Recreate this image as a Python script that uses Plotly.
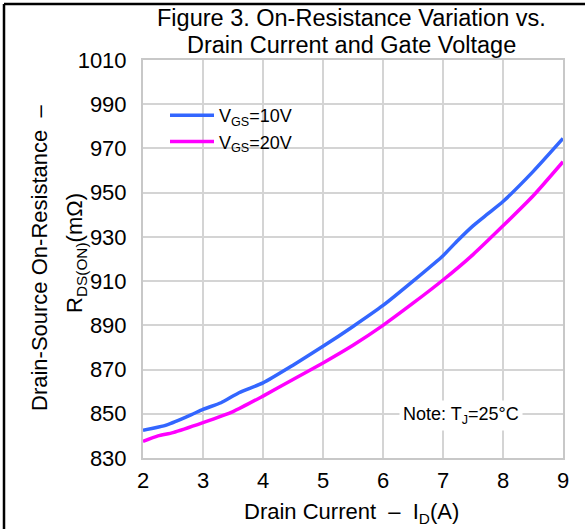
import plotly.graph_objects as go

id_vgs10 = [2.0, 2.4, 2.8, 3.0, 3.3, 3.6, 4.0, 4.5, 5.0, 5.5, 6.0, 6.5, 7.0, 7.25, 7.5, 7.75, 8.0, 8.5, 9.0]
r_vgs10 = [842.5, 845.0, 849.5, 852.0, 855.0, 859.5, 864.0, 872.0, 880.5, 889.5, 899.0, 910.0, 921.5, 928.5, 935.0, 940.5, 946.0, 959.5, 974.5]
id_vgs20 = [2.0, 2.25, 2.5, 3.0, 3.5, 4.0, 4.5, 5.0, 5.5, 6.0, 6.5, 7.0, 7.5, 8.0, 8.5, 9.0]
r_vgs20 = [837.5, 840.0, 841.5, 846.0, 851.0, 858.0, 865.5, 873.0, 881.0, 890.0, 900.0, 910.5, 922.0, 935.0, 948.5, 964.0]
x_ticks = [2, 3, 4, 5, 6, 7, 8, 9]
y_ticks = [830, 850, 870, 890, 910, 930, 950, 970, 990, 1010]
title_lines = ["Figure 3. On-Resistance Variation vs.", "Drain Current and Gate Voltage"]

W, H = 585, 529
ML, MR, MT, MB = 143, 22, 60, 71
PW, PH = W - ML - MR, H - MT - MB

def px(xp):
    return (xp - ML) / PW

def py(yp):
    return (H - MB - yp) / PH

FONT = "Liberation Sans, Arial, sans-serif"

fig = go.Figure()
fig.add_trace(go.Scatter(x=id_vgs10, y=r_vgs10, mode="lines", name="V<sub>GS</sub>=10V",
                         line=dict(color="#3366ff", width=3.5, shape="spline", smoothing=0.6)))
fig.add_trace(go.Scatter(x=id_vgs20, y=r_vgs20, mode="lines", name="V<sub>GS</sub>=20V",
                         line=dict(color="#ff00ff", width=3.5, shape="spline", smoothing=0.6)))

fig.update_layout(
    width=W, height=H,
    margin=dict(l=ML, r=MR, t=MT, b=MB, pad=0),
    paper_bgcolor="white", plot_bgcolor="white",
    font=dict(family=FONT, color="black"),
    showlegend=True,
    legend=dict(x=px(165), y=py(97), xanchor="left", yanchor="top",
                font=dict(size=18, family=FONT), bgcolor="rgba(0,0,0,0)",
                tracegroupgap=0, itemwidth=44),
)
fig.update_xaxes(range=[2, 9], tickvals=x_ticks, ticktext=[str(v) for v in x_ticks],
                 showgrid=True, gridcolor="#d4d4d4", gridwidth=1.5,
                 showline=True, linecolor="#c8c8c8", linewidth=2, mirror=True,
                 ticks="", tickfont=dict(size=22, family=FONT), ticklabelstandoff=2,
                 zeroline=False)
fig.update_yaxes(range=[830, 1010], tickvals=y_ticks, ticktext=[str(v) for v in y_ticks],
                 showgrid=True, gridcolor="#d4d4d4", gridwidth=1.5,
                 showline=True, linecolor="#c8c8c8", linewidth=2, mirror=True,
                 ticks="", tickfont=dict(size=22, family=FONT), ticklabelstandoff=10,
                 zeroline=False)

# two-line title
for txt, yc in zip(title_lines, [18, 45]):
    fig.add_annotation(text=txt, xref="paper", yref="paper",
                       x=px(351), y=py(yc), xanchor="center", yanchor="middle",
                       showarrow=False, font=dict(size=23.5, family=FONT))

fig.add_annotation(text="Drain Current  –  I<sub>D</sub>(A)", xref="paper", yref="paper",
                   x=px(351), y=py(513), xanchor="center", yanchor="middle",
                   showarrow=False, font=dict(size=22, family=FONT))
fig.add_annotation(text="Drain-Source On-Resistance  –", xref="paper", yref="paper",
                   x=px(39), y=py(258), xanchor="center", yanchor="middle", textangle=-90,
                   showarrow=False, font=dict(size=22, family=FONT))
fig.add_annotation(text="R<sub>DS(ON)</sub>(mΩ)", xref="paper", yref="paper",
                   x=px(76), y=py(253), xanchor="center", yanchor="middle", textangle=-90,
                   showarrow=False, font=dict(size=22, family=FONT))
fig.add_annotation(text="Note: T<sub>J</sub>=25°C", xref="paper", yref="paper",
                   x=px(461), y=py(415), xanchor="center", yanchor="middle",
                   showarrow=False, bgcolor="white", borderpad=3,
                   font=dict(size=18, family=FONT))

# outer frame lines
fig.add_shape(type="line", xref="paper", yref="paper", x0=px(4), x1=px(W + 5), y0=py(4), y1=py(4),
              line=dict(color="black", width=2.5))
fig.add_shape(type="line", xref="paper", yref="paper", x0=px(4), x1=px(4), y0=py(4), y1=py(H + 5),
              line=dict(color="black", width=2.5))

fig.write_html("out.html")
